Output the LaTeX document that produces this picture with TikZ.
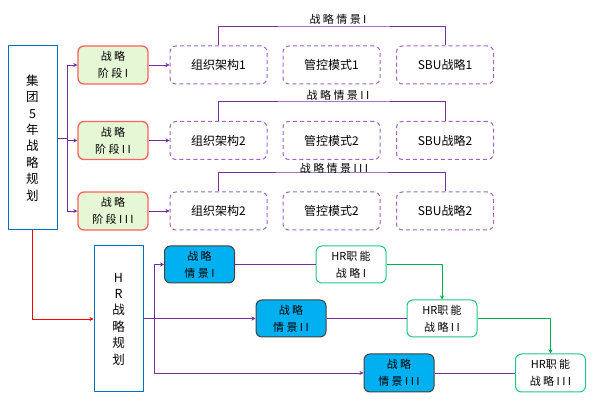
\documentclass[tikz,border=0pt]{standalone}
\usepackage{fontspec}
\setmainfont{Noto Sans CJK SC}
\newfontfamily\spc[LetterSpace=22]{Noto Sans CJK SC}
\newfontfamily\tight{Noto Sans CJK SC}
\usetikzlibrary{arrows.meta}
\definecolor{planblue}{RGB}{0,112,192}
\definecolor{stagefill}{RGB}{230,247,214}
\definecolor{stagedraw}{RGB}{255,96,96}
\definecolor{dashpurple}{RGB}{160,100,200}
\definecolor{linepurple}{RGB}{112,48,160}
\definecolor{qfill}{RGB}{0,176,240}
\definecolor{qdraw}{RGB}{64,64,64}
\definecolor{hrgreen}{RGB}{32,200,130}
\definecolor{lgreen}{RGB}{0,176,80}
\tikzset{
  tall/.style={draw=planblue, line width=1pt, align=center, inner sep=0pt,
    font=\fontsize{12.5}{16.4}\selectfont},
  stagebox/.style={draw=stagedraw, fill=stagefill, line width=1.3pt, rounded corners=6pt,
    minimum width=70pt, minimum height=38pt, align=center, inner sep=0pt,
    font=\spc\fontsize{11}{17}\selectfont},
  dbox/.style={draw=dashpurple, dashed, dash pattern=on 4pt off 3pt, line width=1pt, rounded corners=6pt,
    minimum width=97pt, minimum height=38pt, inner sep=0pt, font=\fontsize{12}{14}\selectfont},
  qbox/.style={draw=qdraw, fill=qfill, line width=1pt, rounded corners=6pt,
    minimum width=70pt, minimum height=37pt, align=center, inner sep=0pt,
    font=\spc\fontsize{11}{17}\selectfont},
  hrbox/.style={draw=hrgreen, fill=white, line width=1pt, rounded corners=6pt,
    minimum width=70pt, minimum height=37pt, align=center, inner sep=0pt,
    font=\spc\fontsize{11}{17}\selectfont},
  parr/.style={draw=linepurple, line width=0.9pt, -{Stealth[length=4pt,width=4pt]}},
  pline/.style={draw=linepurple, line width=0.9pt},
  garr/.style={draw=lgreen, line width=0.9pt, -{Stealth[length=4pt,width=4pt]}},
  rarr/.style={draw=red, line width=0.9pt, -{Stealth[length=4pt,width=4pt]}},
  lbl/.style={font=\spc\fontsize{11}{12}\selectfont, inner sep=0pt, anchor=south}
}
\begin{document}
\begin{tikzpicture}[x=1pt,y=-1pt]
\useasboundingbox (0,0) rectangle (598,406);
% left plan box
\node[tall, minimum width=49pt, minimum height=184pt] (plan) at (32.5,138) {集\\团\\5\\年\\战\\略\\规\\划};
% stages
\node[stagebox] (s1) at (113,65) {战略\\阶段I};
\node[stagebox] (s2) at (113,140.5) {战略\\阶段II};
\node[stagebox] (s3) at (113,211) {战略\\阶段III};
% dashed boxes
\node[dbox] (o1) at (218.5,65) {组织架构1};
\node[dbox] (m1) at (331.5,65) {管控模式1};
\node[dbox] (b1) at (445,65) {SBU战略1};
\node[dbox] (o2) at (218.5,140.5) {组织架构2};
\node[dbox] (m2) at (331.5,140.5) {管控模式2};
\node[dbox] (b2) at (445,140.5) {SBU战略2};
\node[dbox] (o3) at (218.5,211) {组织架构2};
\node[dbox] (m3) at (331.5,211) {管控模式2};
\node[dbox] (b3) at (445,211) {SBU战略2};
% plan to stages
\coordinate (j) at (67,138);
\draw[pline] (plan.east |- j) -- (j);
\draw[parr] (j) |- (s1.west);
\draw[parr] (j) |- (s2.west);
\draw[parr] (j) |- (s3.west);
% stage to org
\draw[parr] (s1.east) -- (o1.west);
\draw[parr] (s2.east) -- (o2.west);
\draw[parr] (s3.east) -- (o3.west);
% scenario brackets
\coordinate (t1) at (336,26);
\coordinate (t2) at (336,101);
\coordinate (t3) at (332,172);
\draw[pline] (o1.north) |- (t1) -| (b1.north);
\draw[pline] (o2.north) |- (t2) -| (b2.north);
\draw[pline] (o3.north) |- (t3) -| (b3.north);
\node[lbl] (l1) at (338,24.5) {战略情景I};
\node[lbl] (l2) at (338,100.5) {战略情景II};
\node[lbl] (l3) at (334,174) {战略情景III};
% HR plan
\node[tall, minimum width=49pt, minimum height=146pt] (hr) at (118.5,319) {H\\R\\战\\略\\规\\划};
\draw[rarr] (plan.south) |- (hr.west);
% scenarios
\node[qbox] (q1) at (199.5,264.5) {战略\\情景I};
\node[qbox] (q2) at (291,318.5) {战略\\情景II};
\node[qbox, minimum height=38pt] (q3) at (399,373) {战略\\情景III};
% HR functional strategies
\node[hrbox] (f1) at (351,264.5) {{\tight HR}职能\\战略I};
\node[hrbox] (f2) at (442,318.5) {{\tight HR}职能\\战略II};
\node[hrbox, minimum height=38pt] (f3) at (550.5,373) {{\tight HR}职能\\战略III};
% HR plan connections
\coordinate (k) at (154,318.5);
\draw[parr] (hr.east |- k) -- (q2.west);
\draw[parr] (k) |- (q1.west);
\draw[parr] (k) |- (q3.west);
\draw[pline] (q1.east) -- (f1.west);
\draw[pline] (q2.east) -- (f2.west);
\draw[pline] (q3.east) -- (f3.west);
\draw[garr] (f1.east) -| (f2.north);
\draw[garr] (f2.east) -| (f3.north);
\end{tikzpicture}
\end{document}
